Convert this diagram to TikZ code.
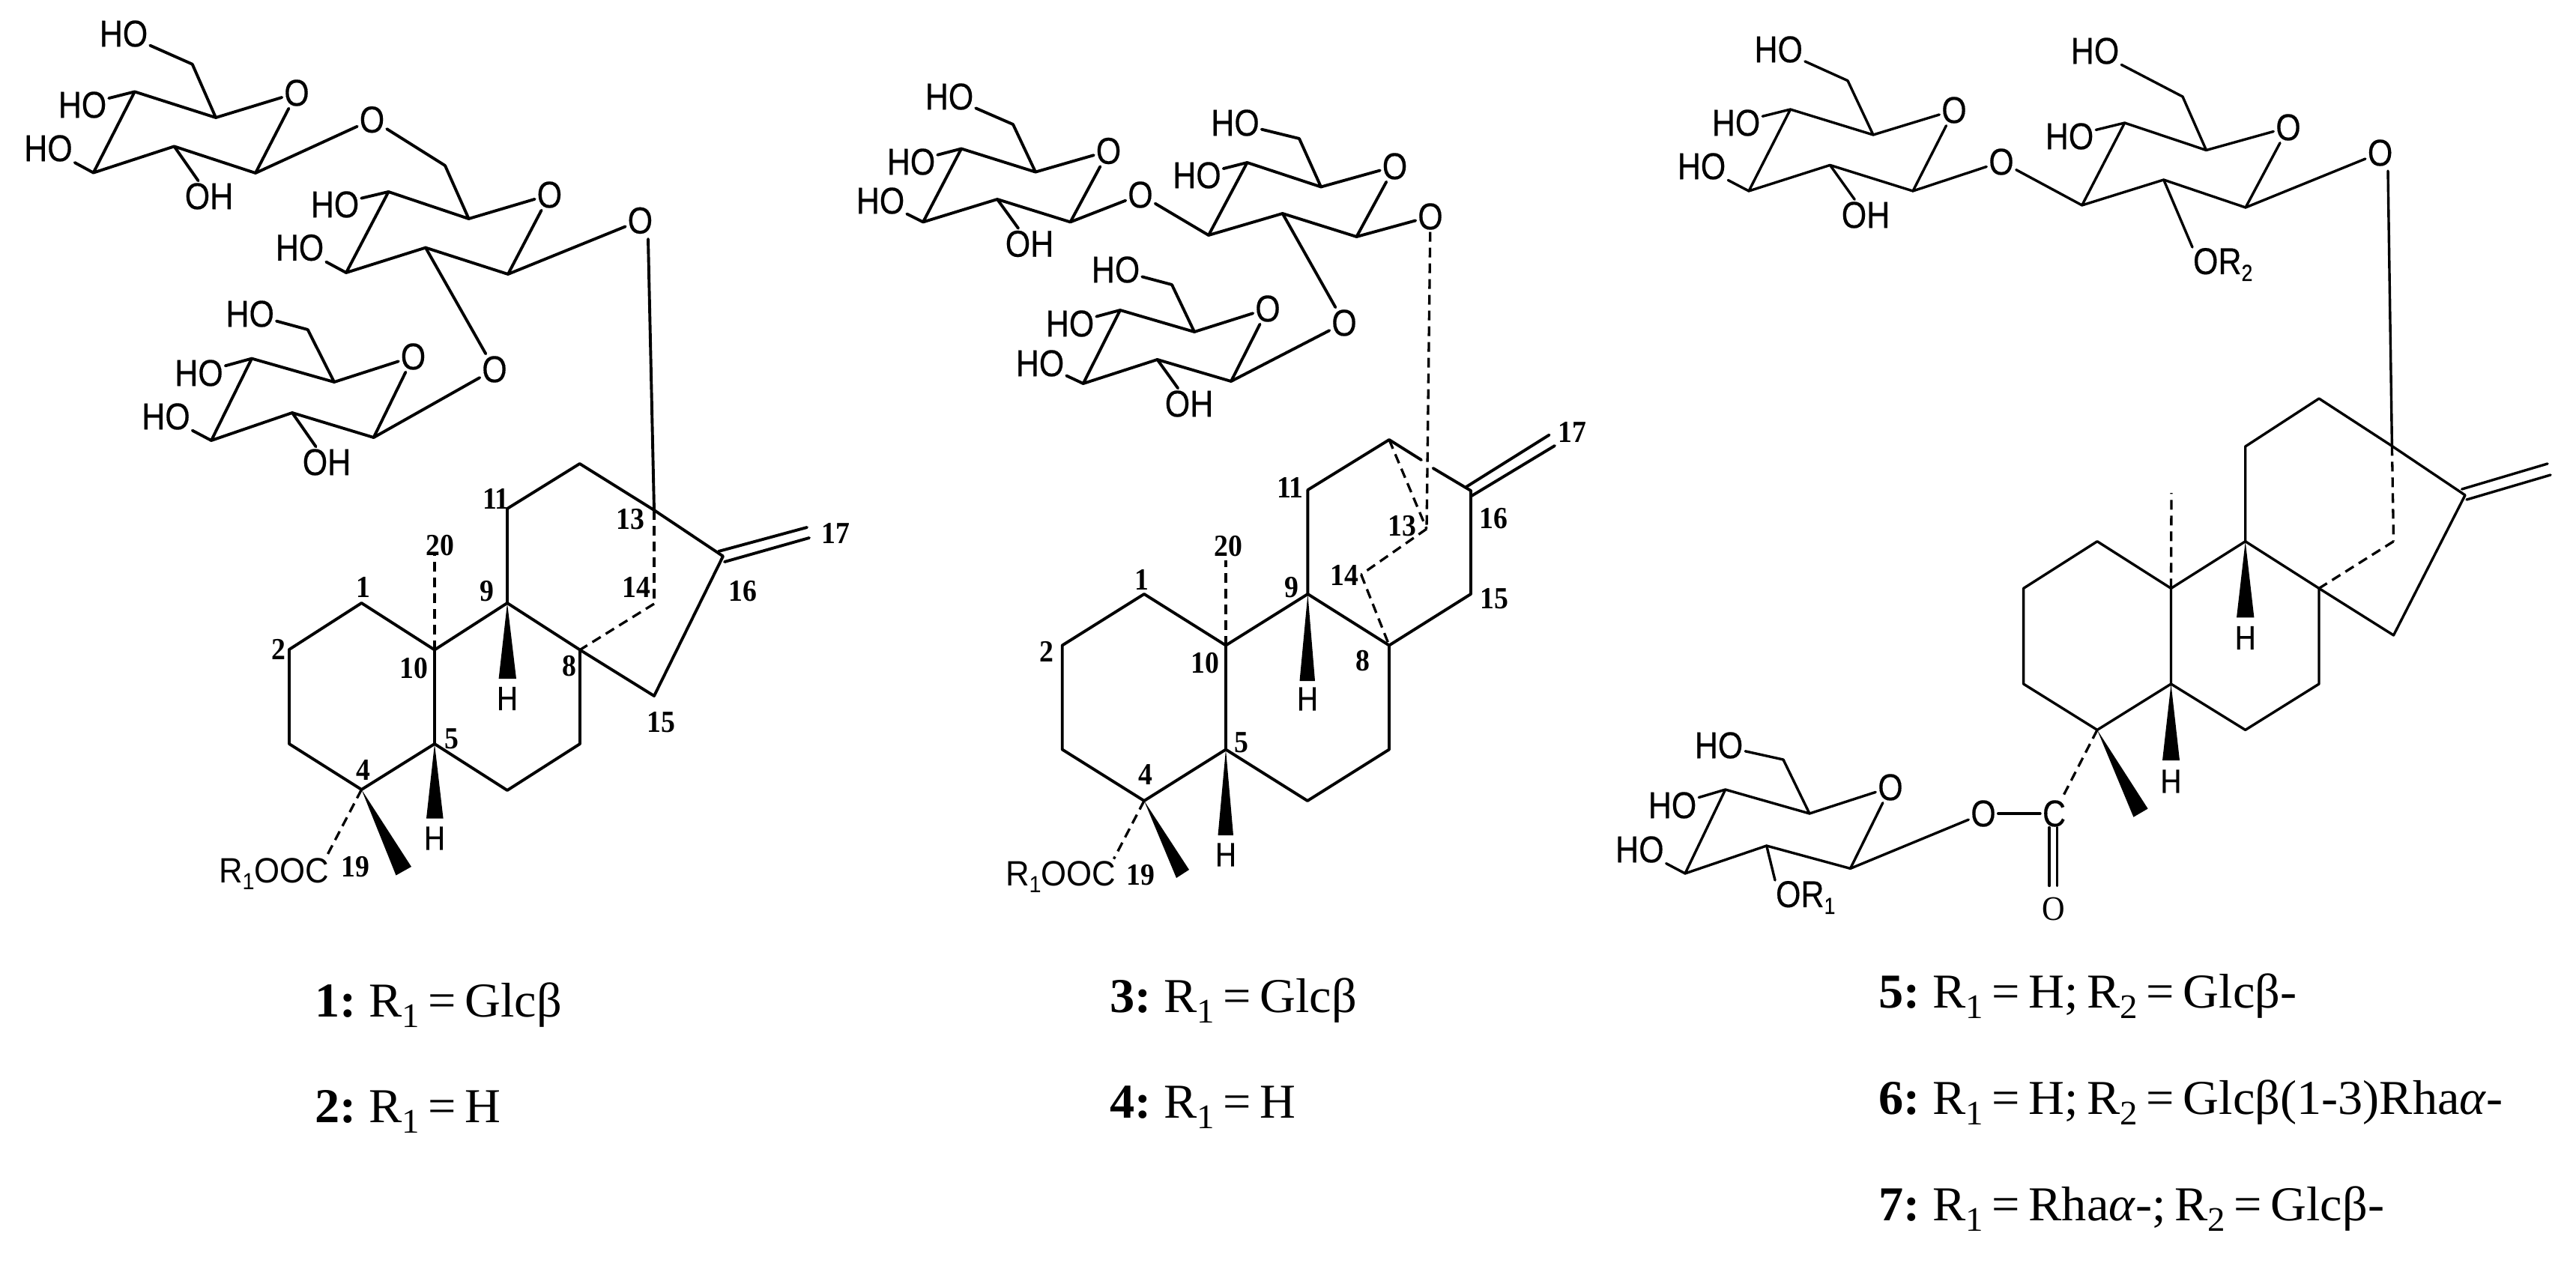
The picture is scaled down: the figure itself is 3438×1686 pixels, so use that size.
\documentclass[tikz,border=0pt]{standalone}
\usepackage{fontspec}
\newfontfamily\chemfont[FakeStretch=0.86,FakeBold=0.3]{Liberation Sans}
\newfontfamily\chemwide[FakeStretch=0.93]{Liberation Sans}
\newfontfamily\numfont[FakeStretch=0.92]{Liberation Serif}
\newfontfamily\capfont[FakeStretch=1.02,WordSpace=0.7]{Liberation Serif}
\newcommand\chemsub[1]{\raisebox{-9pt}{\fontsize{31}{31}\selectfont #1}}
\newcommand\capsub[1]{\raisebox{-14pt}{\fontsize{46}{46}\selectfont #1}}
\tikzset{
  bond/.style={line width=3.9pt,line join=round,line cap=round},
  thinbond/.style={line width=3.4pt,line join=round,line cap=round},
  dashbond/.style={line width=3.3pt,dash pattern=on 13pt off 8pt},
  atomlab/.style={inner sep=3pt,outer sep=0pt,font=\chemfont\fontsize{50}{50}\selectfont},
  hlab/.style={inner sep=1pt,outer sep=0pt,font=\chemfont\fontsize{45}{45}\selectfont},
  widelab/.style={inner sep=1pt,outer sep=0pt,anchor=west,font=\chemwide\fontsize{47}{47}\selectfont},
  numlab/.style={inner sep=0pt,outer sep=0pt,font=\numfont\bfseries\fontsize{41}{41}\selectfont},
  caplab/.style={inner sep=0pt,outer sep=0pt,anchor=base west,font=\capfont\fontsize{65}{65}\selectfont},
}
% prefix, C1, C2, C3, C4, C5, ring O, C6
\newcommand\hexose[9][bond]{%
  \coordinate (#2c1) at (#3);
  \coordinate (#2c2) at (#4);
  \coordinate (#2c3) at (#5);
  \coordinate (#2c4) at (#6);
  \coordinate (#2c5) at (#7);
  \coordinate (#2c6) at (#9);
  \node[atomlab] (#2o) at (#8) {O};
  \draw[#1] (#2c1) -- (#2c2) -- (#2c3) -- (#2c4) -- (#2c5) -- (#2c6);
  \draw[#1] (#2c5) -- (#2o);
  \draw[#1] (#2c1) -- (#2o);
}
\begin{document}
\begin{tikzpicture}[x=1pt,y=-1pt]
\useasboundingbox (0,0) rectangle (3438,1686);
\fill[white] (0,0) rectangle (3438,1686);

%%%%%%%%%%%%%%%%%%%% Structure A
\hexose{a1}{341,231}{232.5,195.4}{124.7,230.6}{179.7,122.4}{288,157}{396,124}{256.7,85.7}
\hexose{a2}{678,366}{568,330.6}{462,364}{518.5,256}{625.6,292}{733.4,260}{594,221}
\hexose{a3}{498.7,584}{390,551}{282,588}{336,478.6}{446,510}{551.5,476}{410.7,440}
\node[atomlab] (a1h6) at (165,45) {HO};
\node[atomlab] (a1h4) at (110,140) {HO};
\node[atomlab] (a1h3) at (64.5,198) {HO};
\node[atomlab] (a1h2) at (279,262) {OH};
\node[atomlab] (a2h4) at (447,273) {HO};
\node[atomlab] (a2h3) at (400,330.6) {HO};
\node[atomlab] (a3h6) at (333.7,419) {HO};
\node[atomlab] (a3h4) at (265.5,498) {HO};
\node[atomlab] (a3h3) at (221.5,556) {HO};
\node[atomlab] (a3h2) at (436,617) {OH};
\node[atomlab] (aoa) at (496.5,159.7) {O};
\node[atomlab] (aob) at (660,493) {O};
\node[atomlab] (aoc) at (854.4,294.4) {O};
\draw[bond] (a1c6) -- (a1h6);
\draw[bond] (a1c4) -- (a1h4);
\draw[bond] (a1c3) -- (a1h3);
\draw[bond] (a1c2) -- (a1h2);
\draw[bond] (a2c4) -- (a2h4);
\draw[bond] (a2c3) -- (a2h3);
\draw[bond] (a3c6) -- (a3h6);
\draw[bond] (a3c4) -- (a3h4);
\draw[bond] (a3c3) -- (a3h3);
\draw[bond] (a3c2) -- (a3h2);
\draw[bond] (a1c1) -- (aoa);
\draw[bond] (aoa) -- (a2c6);
\draw[bond] (a2c2) -- (aob);
\draw[bond] (aob) -- (a3c1);
\draw[bond] (a2c1) -- (aoc);
\foreach \n/\p in {1/{482.5,805},2/{386,867},3/{386,993},4/{482.5,1054},5/{580,993},6/{677,1055},7/{774,993},8/{774,867.5},9/{677,805},10/{580,867.5},11/{677,679},12/{773.7,619},13/{873,681},14/{873,806},15/{873,929},16/{965,742.5},20/{580,739}}
  {\coordinate (at\n) at (\p);}
\coordinate (ada) at (959,736);
\coordinate (adb) at (1077,704);
\coordinate (adc) at (967,750);
\coordinate (add) at (1080,718);
\coordinate (aco) at (437,1141);
\coordinate (aocb) at (865,319);
\draw[bond] (at10) -- (at1) -- (at2) -- (at3) -- (at4) -- (at5) -- (at10) -- (at9) -- (at8) -- (at7) -- (at6) -- (at5);
\draw[bond] (at9) -- (at11) -- (at12) -- (at13) -- (at16) -- (at15) -- (at8);
\draw[bond] (ada) -- (adb);
\draw[bond] (adc) -- (add);
\draw[bond] (aocb) -- (at13);
\draw[dashbond] (at13) -- (at14);
\draw[dashbond] (at14) -- (at8);
\draw[dashbond] (at10) -- (at20);
\draw[dashbond] (at4) -- (aco);
\fill (at9) -- (665.6,906) -- (689,906) -- cycle;
\fill (at5) -- (569,1092.6) -- (591.6,1092.6) -- cycle;
\fill (at4) -- (528.5,1168.5) -- (549,1157) -- cycle;
\node[hlab] (ah9) at (677,932.5) {H};
\node[hlab] (ah5) at (580,1119) {H};
\node[widelab] (acooh) at (291,1167) {R\chemsub{1}OOC};
\node[numlab] (an11) at (662,666) {11};
\node[numlab] (an20) at (587,728) {20};
\node[numlab] (an1) at (485,784) {1};
\node[numlab] (an9) at (650,789) {9};
\node[numlab] (an14) at (849,784) {14};
\node[numlab] (an13) at (841,693) {13};
\node[numlab] (an17) at (1115,712) {17};
\node[numlab] (an16) at (991,789) {16};
\node[numlab] (an2) at (372,867) {2};
\node[numlab] (an10) at (552,892) {10};
\node[numlab] (an8) at (760,889) {8};
\node[numlab] (an15) at (882,964) {15};
\node[numlab] (an5) at (603,986) {5};
\node[numlab] (an4) at (485,1028) {4};
\node[numlab] (an19) at (474,1157) {19};
\node[caplab] (acap1) at (420,1357) {\textbf{1:} R\capsub{1} = Glcβ};
\node[caplab] (acap2) at (420,1498) {\textbf{2:} R\capsub{1} = H};

%%%%%%%%%%%%%%%%%%%% Structure B
\hexose{b1}{1428.5,296.4}{1331,266}{1232,296.4}{1283,198.5}{1382,229.6}{1479.5,201.5}{1352,166}
\hexose{b2}{1810.5,316}{1711.7,285}{1613,314}{1664.5,217}{1763,249.5}{1861.5,222}{1734,185}
\hexose{b3}{1643,509}{1544.6,480}{1445.7,512}{1495,414}{1594,443}{1692,412}{1564,380}
\node[atomlab] (b1h6) at (1267,129) {HO};
\node[atomlab] (b1h4) at (1216,216) {HO};
\node[atomlab] (b1h3) at (1175,268) {HO};
\node[atomlab] (b1h2) at (1374,325.5) {OH};
\node[atomlab] (b2h6) at (1648.5,164) {HO};
\node[atomlab] (b2h4) at (1597.5,234) {HO};
\node[atomlab] (b3h6) at (1489,360) {HO};
\node[atomlab] (b3h4) at (1428,432) {HO};
\node[atomlab] (b3h3) at (1388,485) {HO};
\node[atomlab] (b3h2) at (1587,539) {OH};
\node[atomlab] (boa) at (1522,260) {O};
\node[atomlab] (bob) at (1794,431) {O};
\node[atomlab] (boc) at (1909,289) {O};
\draw[bond] (b1c6) -- (b1h6);
\draw[bond] (b1c4) -- (b1h4);
\draw[bond] (b1c3) -- (b1h3);
\draw[bond] (b1c2) -- (b1h2);
\draw[bond] (b2c6) -- (b2h6);
\draw[bond] (b2c4) -- (b2h4);
\draw[bond] (b3c6) -- (b3h6);
\draw[bond] (b3c4) -- (b3h4);
\draw[bond] (b3c3) -- (b3h3);
\draw[bond] (b3c2) -- (b3h2);
\draw[bond] (b1c1) -- (boa);
\draw[bond] (boa) -- (b2c3);
\draw[bond] (b2c2) -- (bob);
\draw[bond] (bob) -- (b3c1);
\draw[bond] (b2c1) -- (boc);
\foreach \n/\p in {1/{1527,793},2/{1417.7,861.5},3/{1417.7,1000.5},4/{1527,1069},5/{1636,1000.5},6/{1745,1069},7/{1854,1000.5},8/{1854,861.5},9/{1745.4,793},10/{1636,861.5},11/{1745.4,654},12/{1854,587},13/{1904,706},14/{1816.6,767},15/{1963,793},16/{1963,655},20/{1636,748}}
  {\coordinate (bt\n) at (\p);}
\coordinate (bga) at (1897,614);
\coordinate (bgb) at (1912.6,625);
\coordinate (bda) at (1956,650.5);
\coordinate (bdb) at (2067.6,580.6);
\coordinate (bdc) at (1964,662);
\coordinate (bdd) at (2075,595);
\coordinate (bco) at (1486.5,1146.6);
\draw[bond] (bt10) -- (bt1) -- (bt2) -- (bt3) -- (bt4) -- (bt5) -- (bt10) -- (bt9) -- (bt8) -- (bt7) -- (bt6) -- (bt5);
\draw[bond] (bt9) -- (bt11) -- (bt12) -- (bga);
\draw[bond] (bgb) -- (bt16) -- (bt15) -- (bt8);
\draw[bond] (bda) -- (bdb);
\draw[bond] (bdc) -- (bdd);
\draw[dashbond] (boc) -- (bt13);
\draw[dashbond] (bt12) -- (bt13);
\draw[dashbond] (bt13) -- (bt14);
\draw[dashbond] (bt14) -- (bt8);
\draw[dashbond] (bt10) -- (bt20);
\draw[dashbond] (bt4) -- (bco);
\fill (bt9) -- (1734.5,909) -- (1755,909) -- cycle;
\fill (bt5) -- (1625.5,1115) -- (1646,1115) -- cycle;
\fill (bt4) -- (1570,1172) -- (1587,1161) -- cycle;
\node[hlab] (bh9) at (1745,933) {H};
\node[hlab] (bh5) at (1636,1141) {H};
\node[widelab] (bcooh) at (1341,1171) {R\chemsub{1}OOC};
\node[numlab] (bn11) at (1722,651) {11};
\node[numlab] (bn20) at (1639,729.5) {20};
\node[numlab] (bn1) at (1524,773.5) {1};
\node[numlab] (bn9) at (1724,784) {9};
\node[numlab] (bn13) at (1871,702) {13};
\node[numlab] (bn14) at (1794,768) {14};
\node[numlab] (bn16) at (1993,692.5) {16};
\node[numlab] (bn15) at (1994.5,799.6) {15};
\node[numlab] (bn2) at (1396.5,870) {2};
\node[numlab] (bn10) at (1608,885) {10};
\node[numlab] (bn8) at (1819,882) {8};
\node[numlab] (bn5) at (1657,991.6) {5};
\node[numlab] (bn4) at (1528.5,1033.7) {4};
\node[numlab] (bn19) at (1522,1168) {19};
\node[numlab] (bn17) at (2098,577) {17};
\node[caplab] (bcap1) at (1481,1351) {\textbf{3:} R\capsub{1} = Glcβ};
\node[caplab] (bcap2) at (1481,1492) {\textbf{4:} R\capsub{1} = H};

%%%%%%%%%%%%%%%%%%%% Structure C
\hexose[thinbond]{c1}{2553,255}{2442.4,220.4}{2334,255}{2389.5,146}{2500,180}{2608,147}{2466,107.7}
\hexose[thinbond]{c2}{2997,277}{2887.7,240}{2778.7,274}{2835.6,164}{2944.5,200.5}{3054,170}{2913,129}
\hexose[thinbond]{c3}{2469.5,1159.4}{2357.7,1129}{2249,1166}{2302.7,1054}{2415,1086}{2523,1051}{2380,1014}
\node[atomlab] (c1h6) at (2373.7,66) {HO};
\node[atomlab] (c1h4) at (2317,164) {HO};
\node[atomlab] (c1h3) at (2271,222) {HO};
\node[atomlab] (c1h2) at (2490,287) {OH};
\node[atomlab] (c2h6) at (2796,68) {HO};
\node[atomlab] (c2h4) at (2762,182) {HO};
\node[atomlab,anchor=west,inner sep=1pt] (c2r) at (2926,353) {OR\chemsub{2}};
\node[atomlab] (c3h6) at (2294,995) {HO};
\node[atomlab] (c3h4) at (2232,1075) {HO};
\node[atomlab] (c3h3) at (2188.4,1134) {HO};
\node[atomlab,anchor=west,inner sep=1pt] (c3r) at (2369,1198) {OR\chemsub{1}};
\node[atomlab] (coa) at (2671,216) {O};
\node[atomlab] (cob) at (3176.6,204) {O};
\node[atomlab] (coc) at (2647,1086) {O};
\node[atomlab] (ccc) at (2741.5,1086) {C};
\node[numlab,font=\numfont\fontsize{46}{46}\selectfont,inner sep=2pt] (cod) at (2740.6,1213) {O};
\draw[thinbond] (c1c6) -- (c1h6);
\draw[thinbond] (c1c4) -- (c1h4);
\draw[thinbond] (c1c3) -- (c1h3);
\draw[thinbond] (c1c2) -- (c1h2);
\draw[thinbond] (c2c6) -- (c2h6);
\draw[thinbond] (c2c4) -- (c2h4);
\draw[thinbond] (c2c2) -- (c2r.north west);
\draw[thinbond] (c3c6) -- (c3h6);
\draw[thinbond] (c3c4) -- (c3h4);
\draw[thinbond] (c3c3) -- (c3h3);
\draw[thinbond] (c3c2) -- (c3r.north west);
\draw[thinbond] (c1c1) -- (coa);
\draw[thinbond] (coa) -- (c2c3);
\draw[thinbond] (c2c1) -- (cob);
\draw[thinbond] (c3c1) -- (coc);
\draw[thinbond] (coc) -- (ccc);
\foreach \n/\p in {1/{2799,722.7},2/{2700.6,785.4},3/{2700.6,913},4/{2799,974.4},5/{2897.5,913},6/{2996.7,974.4},7/{3095,913},8/{3095,785.4},9/{2996.7,722.7},10/{2897.5,785.4},11/{2996.7,596},12/{3095,532},13/{3192.4,595.4},14/{3194.5,722.7},15/{3194.5,848},16/{3290,661},20/{2898,658}}
  {\coordinate (ct\n) at (\p);}
\coordinate (cda) at (3285.6,653);
\coordinate (cdb) at (3400,619);
\coordinate (cdc) at (3292,667);
\coordinate (cdd) at (3404,634);
\coordinate (cea) at (2735,1104.5);
\coordinate (ceb) at (2735,1182.5);
\coordinate (cec) at (2745.6,1104.5);
\coordinate (ced) at (2745.6,1182.5);
\coordinate (cobb) at (3187,228);
\draw[thinbond] (ct10) -- (ct1) -- (ct2) -- (ct3) -- (ct4) -- (ct5) -- (ct10) -- (ct9) -- (ct8) -- (ct7) -- (ct6) -- (ct5);
\draw[thinbond] (ct9) -- (ct11) -- (ct12) -- (ct13) -- (ct16) -- (ct15) -- (ct8);
\draw[thinbond] (cda) -- (cdb);
\draw[thinbond] (cdc) -- (cdd);
\draw[thinbond] (cea) -- (ceb);
\draw[thinbond] (cec) -- (ced);
\draw[thinbond] (cobb) -- (ct13);
\draw[dashbond] (ct13) -- (ct14);
\draw[dashbond] (ct14) -- (ct8);
\draw[dashbond] (ct10) -- (ct20);
\draw[dashbond] (ct4) -- (ccc);
\fill (ct9) -- (2985,824.4) -- (3008.4,824.4) -- cycle;
\fill (ct5) -- (2886,1015) -- (2909,1015) -- cycle;
\fill (ct4) -- (2847.4,1090.7) -- (2866.6,1079.5) -- cycle;
\node[hlab] (ch9) at (2996.7,851.5) {H};
\node[hlab] (ch5) at (2897.5,1043) {H};
\node[caplab] (ccap1) at (2507,1345) {\textbf{5:} R\capsub{1} = H; R\capsub{2} = Glcβ-};
\node[caplab] (ccap2) at (2507,1487) {\textbf{6:} R\capsub{1} = H; R\capsub{2} = Glcβ(1-3)Rha\textit{α}-};
\node[caplab] (ccap3) at (2507,1629) {\textbf{7:} R\capsub{1} = Rha\textit{α}-; R\capsub{2} = Glcβ-};
\end{tikzpicture}
\end{document}
